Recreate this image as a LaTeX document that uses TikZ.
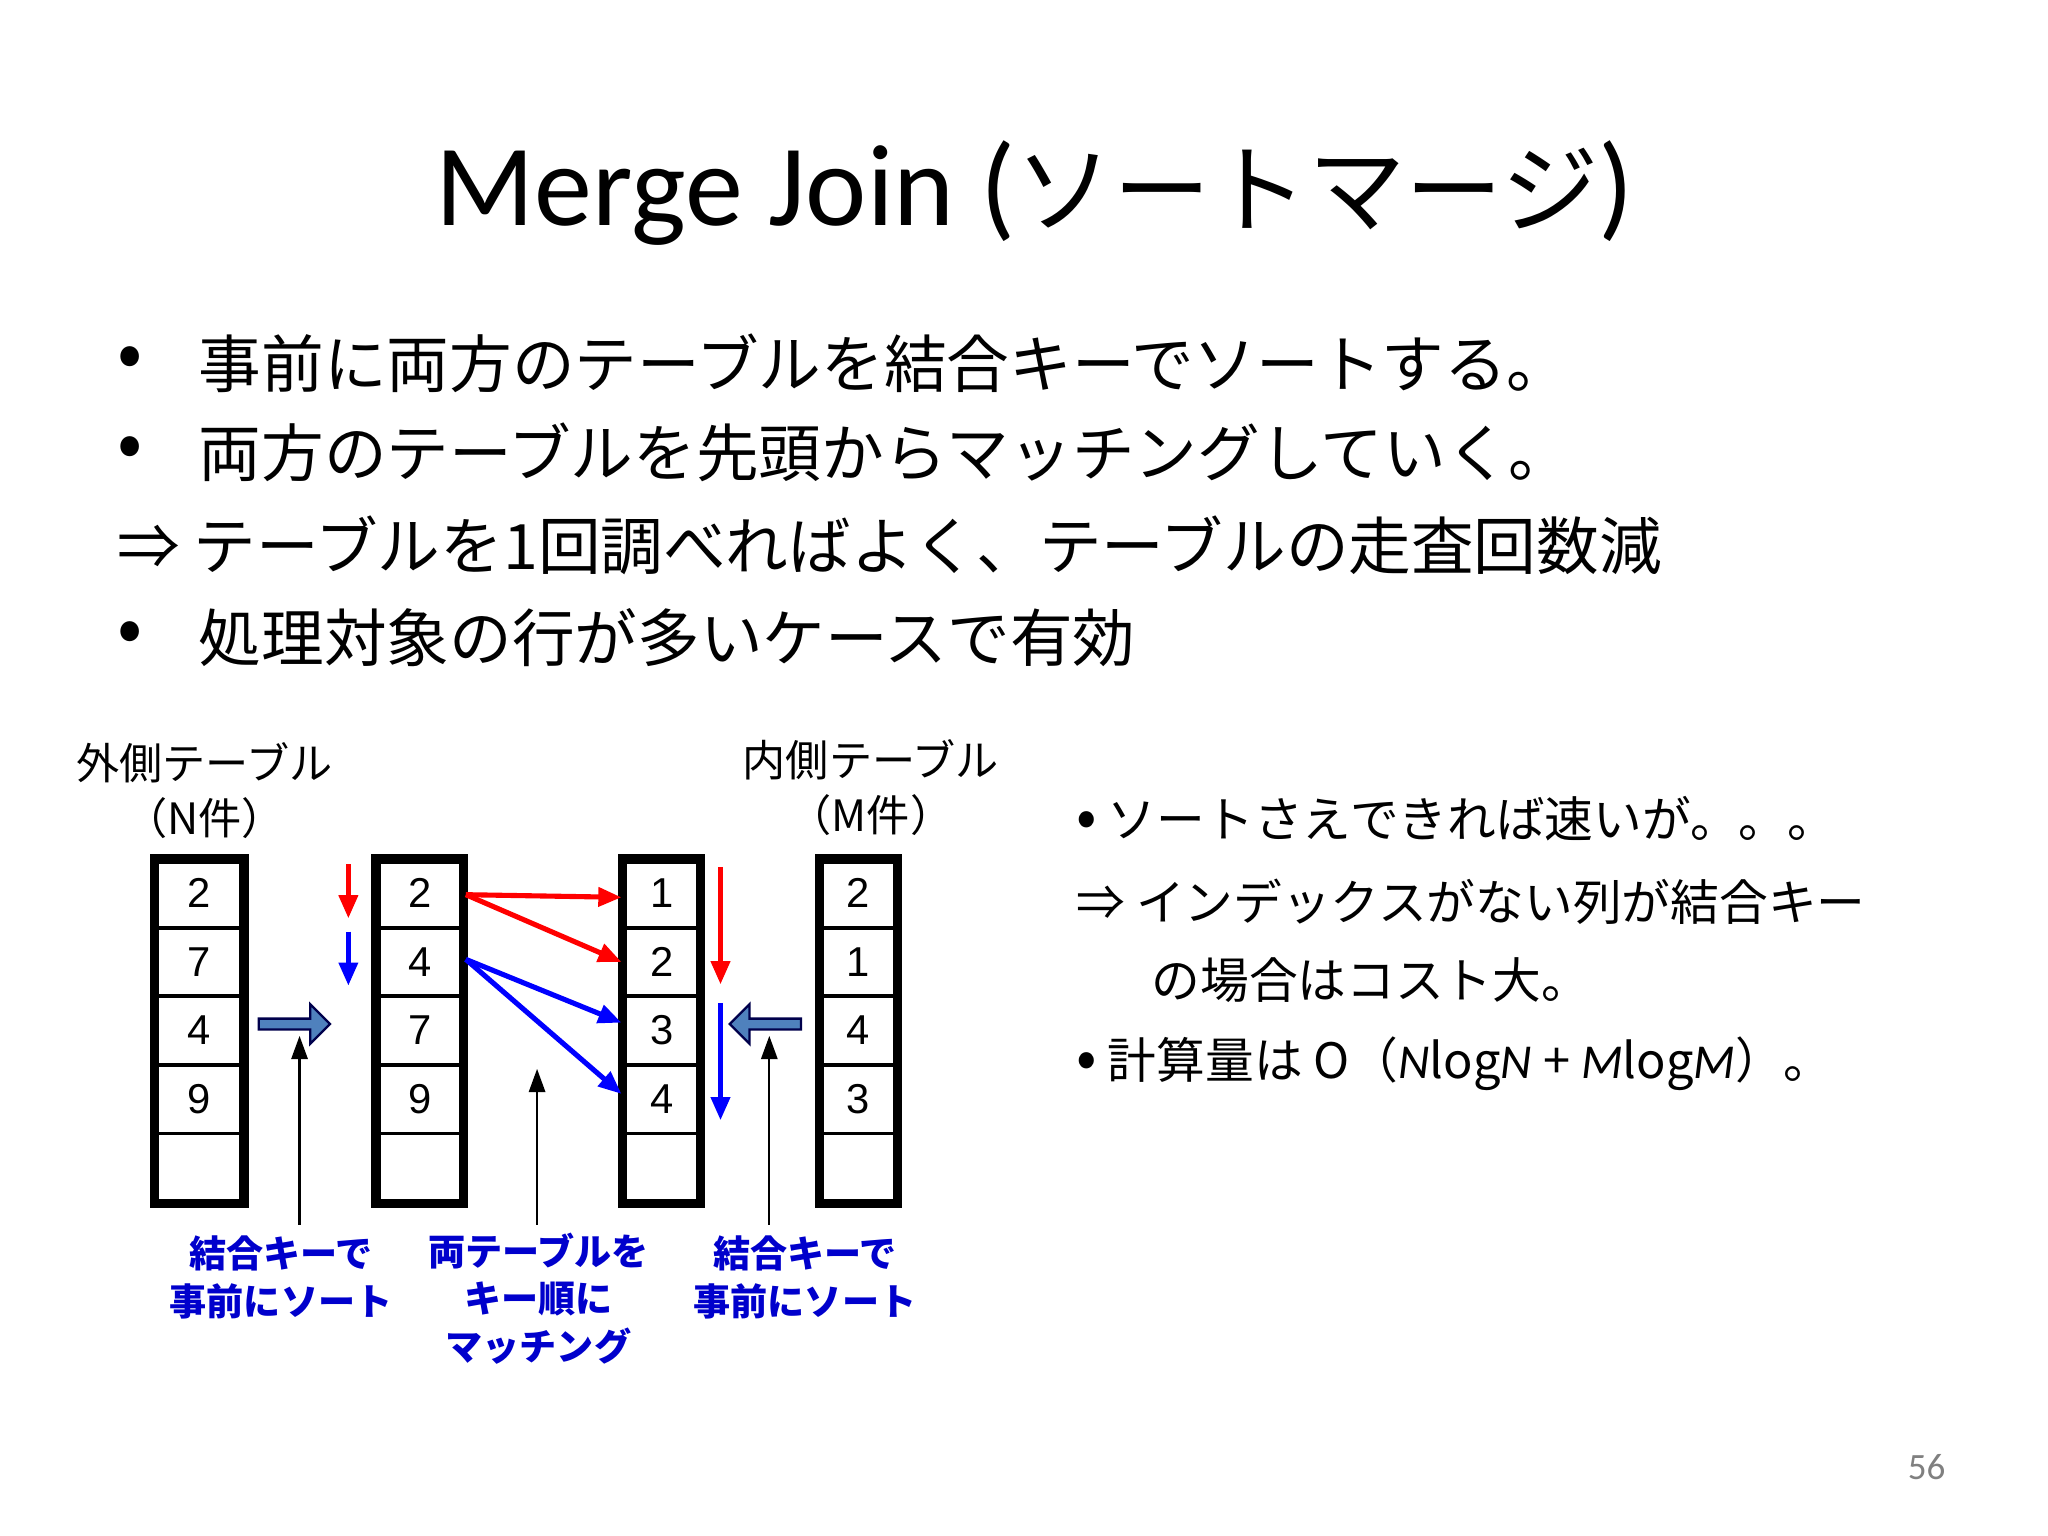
\documentclass[tikz,border=0pt]{standalone}
\usepackage{fontspec}
\setmainfont{Carlito}
\newfontfamily\cjk{Noto Sans CJK JP}
\newfontfamily\arial{Liberation Sans}
\usetikzlibrary{arrows.meta,shapes.arrows}
\definecolor{steel}{HTML}{4F81BD}
\begin{document}
\begin{tikzpicture}[x=0.01cm,y=-0.01cm,
  bul/.style={anchor=west,inner sep=0,font=\cjk\fontsize{13.5}{16}\selectfont},
  rt/.style={anchor=west,inner sep=0,font=\cjk\fontsize{10.5}{13}\selectfont},
  lab/.style={align=center,inner sep=0,text=blue!80!black,font=\cjk\bfseries\fontsize{8}{10.2}\selectfont},
  top/.style={align=center,inner sep=0,font=\cjk\fontsize{9.3}{13}\selectfont},
  cell/.style={font=\arial\fontsize{9}{11}\selectfont},
  red arr/.style={-{Triangle[length=5pt,width=4pt]},red,line width=1.1pt},
  blue arr/.style={-{Triangle[length=5pt,width=4pt]},blue,line width=1.1pt},
  up arr/.style={-{Triangle[length=5pt,width=3.5pt]},black,line width=0.5pt},
  fat/.style={single arrow,draw=blue!30!black,fill=steel,line width=0.5pt,minimum height=0.54cm,single arrow head extend=0.07cm,minimum width=0.3cm,inner sep=0.5pt}]
\useasboundingbox (0,0) rectangle (1552,1164);
\fill[white] (0,0) rectangle (1552,1164);
\node[inner sep=0] (title) at (784,146) {{\fontsize{25}{30}\selectfont Merge Join (}{\cjk\fontsize{21}{28}\selectfont ソートマージ}{\fontsize{25}{30}\selectfont )}};
\node[bul] (b1d) at (88,275) {\fontsize{16}{16}\selectfont•}; \node[bul] (b1) at (150,275) {事前に両方のテーブルを結合キーでソートする。};
\node[bul] (b2d) at (88,343) {\fontsize{16}{16}\selectfont•}; \node[bul] (b2) at (150,343) {両方のテーブルを先頭からマッチングしていく。};
\node[bul] (b3) at (88,413) {⇒ テーブルを1回調べればよく、テーブルの走査回数減};
\node[bul] (b4d) at (88,483) {\fontsize{16}{16}\selectfont•}; \node[bul] (b4) at (150,483) {処理対象の行が多いケースで有効};
\node[rt] (r1) at (815,620) {\fontsize{13}{13}\selectfont•\fontsize{10.5}{13}\selectfont\ ソートさえできれば速いが。。。};
\node[rt] (r2) at (815,683) {⇒ インデックスがない列が結合キー};
\node[rt] (r3) at (872,743) {の場合はコスト大。};
\node[rt] (r4) at (815,806) {\fontsize{13}{13}\selectfont•\fontsize{10.5}{13}\selectfont\ 計算量は O（{\fontspec{Carlito}\itshape N}log{\fontspec{Carlito}\itshape N} + {\fontspec{Carlito}\itshape M}log{\fontspec{Carlito}\itshape M}）。};
\node[top] (t1) at (155,578) {外側テーブル};
\node[top] (t1b) at (155,620) {（N件）};
\node[top] (t2) at (660,576) {内側テーブル};
\node[top] (t2b) at (660,618) {（M件）};
% tables
\foreach \x/\w/\a/\b/\c/\d/\n in {117/68/2/7/4/9/A,285/66/2/4/7/9/B,472/59/1/2/3/4/C,621/59/2/1/4/3/D}{
  \foreach \yy in {703,755,807,859} \draw[line width=0.8pt] (\x,\yy) -- ++(\w,0);
  \draw[line width=2pt] (\x,651) rectangle ++(\w,261);
  \node[cell] (\n1) at (\x+\w/2,677) {\a};
  \node[cell] (\n2) at (\x+\w/2,729) {\b};
  \node[cell] (\n3) at (\x+\w/2,781) {\c};
  \node[cell] (\n4) at (\x+\w/2,833) {\d};
}
\coordinate (ra0) at (264,655); \coordinate (ra1) at (264,696);
\coordinate (ba0) at (264,706); \coordinate (ba1) at (264,747);
\draw[red arr] (ra0) -- (ra1);
\draw[blue arr] (ba0) -- (ba1);
\coordinate (s1) at (353,678); \coordinate (s2) at (353,727);
\coordinate (e1) at (471,680); \coordinate (e2) at (471,729);
\coordinate (e3) at (471,775); \coordinate (e4) at (471,829);
\draw[red arr] (s1) -- (e1); \draw[red arr] (s1) -- (e2);
\draw[blue arr] (s2) -- (e3); \draw[blue arr] (s2) -- (e4);
\coordinate (rv0) at (546,657); \coordinate (rv1) at (546,746);
\coordinate (bv0) at (546,760); \coordinate (bv1) at (546,849);
\draw[red arr] (rv0) -- (rv1); \draw[blue arr] (bv0) -- (bv1);
\node[fat] (fa1) at (221,776) {};
\node[fat,shape border rotate=180] (fa2) at (582,776) {};
\coordinate (u1) at (227,928); \coordinate (u1e) at (227,785);
\coordinate (u2) at (407,928); \coordinate (u2e) at (407,810);
\coordinate (u3) at (583,928); \coordinate (u3e) at (583,785);
\draw[up arr] (u1) -- (u1e); \draw[up arr] (u2) -- (u2e); \draw[up arr] (u3) -- (u3e);
\node[lab] (l1) at (213,968) {結合キーで\\事前にソート};
\node[lab] (l2) at (408,984) {両テーブルを\\キー順に\\マッチング};
\node[lab] (l3) at (610,968) {結合キーで\\事前にソート};
\node[inner sep=0,text=gray,font=\fontsize{8}{10}\selectfont] (pg) at (1460,1112) {56};
\end{tikzpicture}
\end{document}
